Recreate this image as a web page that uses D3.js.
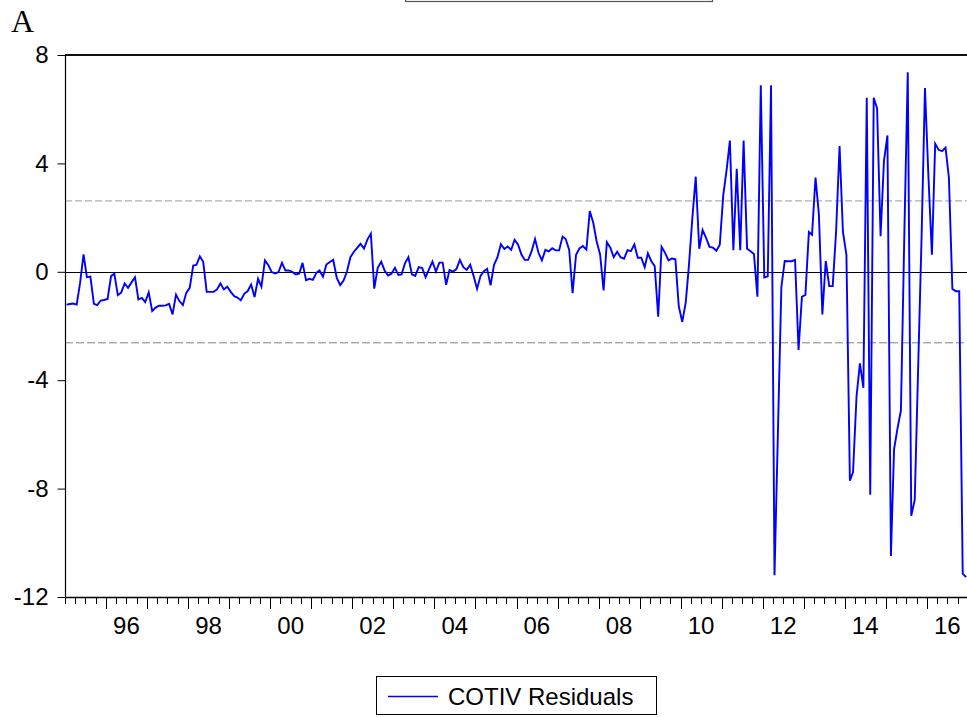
<!DOCTYPE html>
<html>
<head>
<meta charset="utf-8">
<script src="https://cdn.jsdelivr.net/npm/d3@7"></script>
<style>
  html, body { margin: 0; padding: 0; background: #fff; }
  svg { display: block; }
</style>
</head>
<body>
<svg id="chart" width="967" height="717"></svg>
<script>
// ---- Data (monthly residuals, 1995M01 - 2016M12) ----
const startYear = 1995;
const residuals = [
  // 1995
  -1.21, -1.19, -1.17, -1.21, -0.42, 0.64, -0.20, -0.18, -1.18, -1.23, -1.06, -1.04,
  // 1996
  -1.00, -0.16, -0.07, -0.86, -0.77, -0.43, -0.59, -0.39, -0.20, -1.02, -0.96, -1.12,
  // 1997
  -0.76, -1.45, -1.33, -1.25, -1.25, -1.24, -1.18, -1.57, -0.84, -1.08, -1.23, -0.78,
  // 1998
  -0.59, 0.23, 0.25, 0.57, 0.37, -0.74, -0.74, -0.74, -0.65, -0.43, -0.65, -0.55,
  // 1999
  -0.74, -0.90, -0.95, -1.05, -0.81, -0.71, -0.47, -0.93, -0.26, -0.55, 0.42, 0.25,
  // 2000
  -0.01, -0.06, -0.01, 0.33, 0.05, 0.05, 0.00, -0.10, -0.07, 0.33, -0.31, -0.26,
  // 2001
  -0.30, -0.04, 0.05, -0.18, 0.27, 0.36, 0.44, -0.22, -0.49, -0.32, 0.02, 0.54,
  // 2002
  0.74, 0.89, 1.03, 0.86, 1.19, 1.41, -0.62, 0.15, 0.37, 0.05, -0.14, -0.07,
  // 2003
  0.15, -0.12, -0.10, 0.32, 0.54, -0.09, -0.15, 0.17, 0.14, -0.20, 0.10, 0.38,
  // 2004
  0.01, 0.34, 0.34, -0.48, 0.07, 0.01, 0.10, 0.44, 0.17, 0.07, 0.26, -0.15,
  // 2005
  -0.63, -0.15, 0.01, 0.11, -0.50, 0.26, 0.53, 1.02, 0.84, 0.93, 0.81, 1.18,
  // 2006
  1.00, 0.63, 0.44, 0.44, 0.75, 1.21, 0.71, 0.42, 0.81, 0.75, 0.87, 0.79,
  // 2007
  0.79, 1.30, 1.21, 0.81, -0.79, 0.63, 0.86, 0.95, 0.82, 2.24, 1.81, 1.13,
  // 2008
  0.64, -0.69, 1.09, 0.89, 0.54, 0.74, 0.54, 0.48, 0.80, 0.76, 1.01, 0.52,
  // 2009
  0.52, 0.17, 0.68, 0.39, 0.21, -1.66, 0.92, 0.70, 0.42, 0.49, 0.46, -1.27,
  // 2010
  -1.85, -1.14, 0.21, 1.99, 3.51, 0.85, 1.54, 1.25, 0.92, 0.89, 0.78, 1.00,
  // 2011
  2.83, 3.80, 4.84, 0.80, 3.80, 0.80, 4.84, 0.85, 0.76, 0.66, -0.92, 6.88,
  // 2012
  -0.21, -0.17, 6.88, -11.20, -6.00, -0.57, 0.40, 0.39, 0.39, 0.44, -2.88, -0.92,
  // 2013
  -0.85, 1.47, 1.37, 3.48, 2.12, -1.57, 0.40, -0.53, -0.53, 1.47, 4.64, 1.47,
  // 2014
  0.63, -7.71, -7.39, -4.60, -3.38, -4.28, 6.42, -8.23, 6.42, 6.03, 1.31, 4.09,
  // 2015
  5.03, -10.49, -6.55, -5.77, -5.12, 1.50, 7.36, -9.00, -8.42, -3.60, 1.30, 6.78,
  // 2016
  3.50, 0.63, 4.73, 4.50, 4.45, 4.58, 3.48, -0.63, -0.72, -0.72, -11.14, -11.27
];
const bandLevels = [2.62, -2.62];
const yTicks = [8, 4, 0, -4, -8, -12];
const xLabelYears = [1996, 1998, 2000, 2002, 2004, 2006, 2008, 2010, 2012, 2014, 2016];
const seriesName = "COTIV Residuals";
const panelLetter = "A";

(function draw() {
  const svg = d3.select("#chart");
  const pL = 65, pR = 968, pT = 55, pB = 597;

  const x = d3.scaleTime()
    .domain([new Date(startYear, 0, 1), new Date(2017, 0, 1)])
    .range([pL, pR]);
  const y = d3.scaleLinear().domain([-12, 8]).range([pB, pT]);

  const points = residuals.map((v, i) => ({ date: new Date(startYear, i, 15), v }));

  // Top cut-off box (remnant of upper panel legend)
  svg.append("rect")
    .attr("x", 405.5).attr("y", -12).attr("width", 307).attr("height", 13.5)
    .attr("fill", "none").attr("stroke", "#555").attr("stroke-width", 1.2);

  // Panel letter
  svg.append("text")
    .attr("x", 11).attr("y", 32)
    .attr("font-family", "Liberation Serif, 'DejaVu Serif', serif")
    .attr("font-size", 32)
    .attr("fill", "#000")
    .text(panelLetter);

  // Band lines
  svg.append("line")
    .attr("x1", pL).attr("x2", pR)
    .attr("y1", y(bandLevels[0])).attr("y2", y(bandLevels[0]))
    .attr("stroke", "#b0b0b0").attr("stroke-width", 1.2)
    .attr("stroke-dasharray", "7,3");
  svg.append("line")
    .attr("x1", pL).attr("x2", pR)
    .attr("y1", y(bandLevels[1])).attr("y2", y(bandLevels[1]))
    .attr("stroke", "#808080").attr("stroke-width", 1)
    .attr("stroke-dasharray", "8,3");

  // Zero line
  svg.append("line")
    .attr("x1", pL).attr("x2", pR)
    .attr("y1", Math.round(y(0)) + 0.5).attr("y2", Math.round(y(0)) + 0.5)
    .attr("stroke", "#000").attr("stroke-width", 1.2);

  // Series line
  const line = d3.line().x(d => x(d.date)).y(d => y(d.v));
  svg.append("path")
    .datum(points)
    .attr("d", line)
    .attr("fill", "none")
    .attr("stroke", "#0000ff")
    .attr("stroke-width", 1.9)
    .attr("stroke-linejoin", "miter");

  // Frame: top and left borders
  svg.append("line")
    .attr("x1", pL).attr("x2", pR).attr("y1", pT).attr("y2", pT)
    .attr("stroke", "#111").attr("stroke-width", 1.8);
  svg.append("line")
    .attr("x1", pL + 0.5).attr("x2", pL + 0.5).attr("y1", pT).attr("y2", pB)
    .attr("stroke", "#000").attr("stroke-width", 1.2);
  svg.append("line")
    .attr("x1", pR).attr("x2", pR).attr("y1", pT).attr("y2", pB)
    .attr("stroke", "#000").attr("stroke-width", 1);

  // Y axis
  const yAxis = d3.axisLeft(y).tickValues(yTicks).tickSize(8).tickPadding(9)
    .tickFormat(d => String(d));
  const gy = svg.append("g").attr("transform", `translate(${pL + 0.5},0)`).call(yAxis);
  gy.select(".domain").remove();
  gy.selectAll("text")
    .attr("font-family", "Liberation Sans, Arial, Helvetica, sans-serif")
    .attr("font-size", 24).attr("fill", "#000");
  gy.selectAll("line").attr("stroke", "#000");

  // X axis: quarterly ticks, longer at each year start
  const quarterTicks = d3.timeMonth.every(3).range(new Date(startYear, 0, 1), new Date(2017, 0, 2));
  const gx = svg.append("g");
  gx.append("line")
    .attr("x1", pL).attr("x2", pR)
    .attr("y1", pB + 0.5).attr("y2", pB + 0.5)
    .attr("stroke", "#000").attr("stroke-width", 1.4);
  gx.selectAll("line.tick")
    .data(quarterTicks)
    .enter().append("line")
    .attr("class", "tick")
    .attr("x1", d => Math.round(x(d)) + 0.5).attr("x2", d => Math.round(x(d)) + 0.5)
    .attr("y1", pB)
    .attr("y2", d => (d.getMonth() === 0 && d.getFullYear() > startYear) ? pB + 12 : pB + 7)
    .attr("stroke", "#000").attr("stroke-width", 1);
  gx.selectAll("text.lab")
    .data(xLabelYears)
    .enter().append("text")
    .attr("class", "lab")
    .attr("x", d => x(new Date(d, 6, 1)))
    .attr("y", 634)
    .attr("text-anchor", "middle")
    .attr("font-family", "Liberation Sans, Arial, Helvetica, sans-serif")
    .attr("font-size", 24)
    .attr("fill", "#000")
    .text(d => String(d % 100).padStart(2, "0"));

  // Legend
  const lg = svg.append("g");
  lg.append("rect")
    .attr("x", 376.5).attr("y", 676.5).attr("width", 280).attr("height", 38)
    .attr("fill", "#fff").attr("stroke", "#000").attr("stroke-width", 1);
  lg.append("line")
    .attr("x1", 388).attr("x2", 438).attr("y1", 696.5).attr("y2", 696.5)
    .attr("stroke", "#0000ff").attr("stroke-width", 1.6);
  lg.append("text")
    .attr("x", 448).attr("y", 705)
    .attr("font-family", "Liberation Sans, Arial, Helvetica, sans-serif")
    .attr("font-size", 24)
    .attr("fill", "#000")
    .text(seriesName);
})();
</script>
</body>
</html>
